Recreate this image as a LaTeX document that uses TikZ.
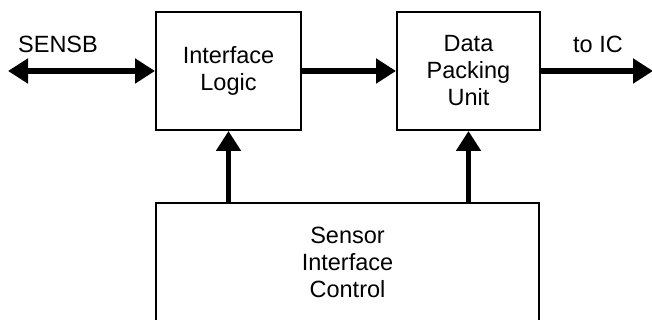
\documentclass[tikz,border=0pt]{standalone}
\usepackage{fontspec}
\setmainfont{Liberation Sans}
\usetikzlibrary{arrows.meta}
\newcommand{\bigtxt}{\fontsize{23.5pt}{27pt}\selectfont}
\begin{document}
\begin{tikzpicture}[x=1pt,y=1pt,
  box/.style={draw, line width=2pt, minimum width=145pt, minimum height=118pt,
    inner sep=0pt, align=center, font=\bigtxt},
  tipA/.tip={Triangle[length=20pt,width=24pt]},
  conn/.style={line width=5.5pt, -tipA},
  lbl/.style={font=\bigtxt, inner sep=0pt, anchor=base}]
\useasboundingbox (0,0) rectangle (652,320);
\clip (0,0) rectangle (652,320);
\node[box] (IL) at (228.5,249) {Interface\\Logic};
\node[box, minimum width=143pt] (DPU) at (468.5,249) {Data\\Packing\\Unit};
\node[box, minimum width=383pt] (SIC) at (347.5,58) {Sensor\\Interface\\Control};
\coordinate (L) at (8,249);
\coordinate (R) at (653,249);
\node[lbl] (sensb) at (58,267) {SENSB};
\node[lbl] (toic) at (598,267) {to IC};
\draw[conn, tipA-tipA] (L) -- (IL.west);
\draw[conn] (IL.east) -- (DPU.west);
\draw[conn] (DPU.east) -- (R);
\draw[conn] (SIC.north -| IL.south) -- (IL.south);
\draw[conn] (SIC.north -| DPU.south) -- (DPU.south);
\end{tikzpicture}
\end{document}
